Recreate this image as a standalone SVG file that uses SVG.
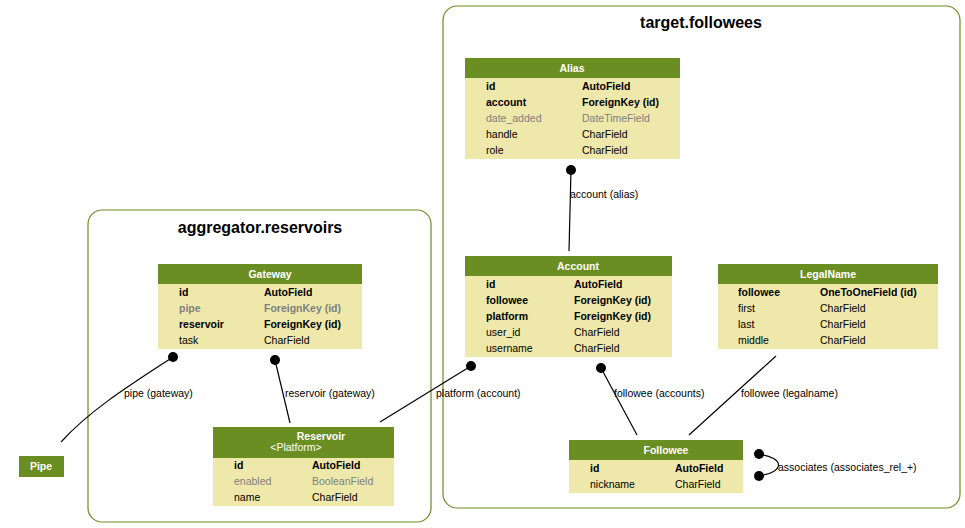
<svg xmlns="http://www.w3.org/2000/svg" width="965" height="528" viewBox="0 0 965 528">
<style>
text{font-family:"Liberation Sans",Arial,sans-serif;font-size:10.5px;fill:#000}
.cl{fill:none;stroke:#6b8e23;stroke-width:1.2}
.ct{font-size:16px;font-weight:bold;text-anchor:middle}
.hd{fill:#6b8e23}
.bd{fill:#eee8aa}
.ht{fill:#fff;font-weight:bold;text-anchor:middle}
.hs{fill:#fff;text-anchor:middle}
.b{font-weight:bold}
.g{fill:#7f7f7f}
.e{fill:none;stroke:#000;stroke-width:1.2}
.lb{font-size:10.5px}
</style>
<rect class="cl" x="443" y="6" width="517" height="502" rx="14"/>
<text class="ct" x="701" y="28">target.followees</text>
<rect class="cl" x="88" y="210" width="343" height="312" rx="14"/>
<text class="ct" x="260" y="233">aggregator.reservoirs</text>

<g id="edges">
<line class="e" x1="571" y1="170" x2="569" y2="251"/>
<circle cx="571" cy="170" r="5"/>
<text class="lb" x="570" y="198">account (alias)</text>
<path class="e" d="M173,357 C130,385 90,410 61,442"/>
<circle cx="173" cy="357" r="5"/>
<text class="lb" x="124" y="397">pipe (gateway)</text>
<line class="e" x1="275" y1="360" x2="290" y2="423"/>
<circle cx="275" cy="360" r="5"/>
<text class="lb" x="285" y="397">reservoir (gateway)</text>
<line class="e" x1="471" y1="366" x2="380" y2="422"/>
<circle cx="471" cy="366" r="5"/>
<text class="lb" x="436" y="397">platform (account)</text>
<line class="e" x1="601" y1="368" x2="637" y2="435"/>
<circle cx="601" cy="368" r="5"/>
<text class="lb" x="614" y="397">followee (accounts)</text>
<line class="e" x1="776" y1="356" x2="689" y2="435"/>
<text class="lb" x="741" y="397">followee (legalname)</text>
<path class="e" d="M759,454 C785,458 785,472 759,476"/>
<circle cx="759" cy="454" r="5"/>
<circle cx="759" cy="476" r="5"/>
<text class="lb" x="778" y="471">associates (associates_rel_+)</text>
</g>

<g id="alias">
<rect class="hd" x="465" y="58" width="215" height="20"/>
<rect class="bd" x="465" y="78" width="215" height="81"/>
<text class="ht" x="572" y="72">Alias</text>
<text class="b" x="486" y="90">id</text><text class="b" x="582" y="90">AutoField</text>
<text class="b" x="486" y="106">account</text><text class="b" x="582" y="106">ForeignKey (id)</text>
<text class="g" x="486" y="122">date_added</text><text class="g" x="582" y="122">DateTimeField</text>
<text x="486" y="138">handle</text><text x="582" y="138">CharField</text>
<text x="486" y="154">role</text><text x="582" y="154">CharField</text>
</g>

<g id="account">
<rect class="hd" x="465" y="256" width="207" height="20"/>
<rect class="bd" x="465" y="276" width="207" height="81"/>
<text class="ht" x="578" y="270">Account</text>
<text class="b" x="486" y="288">id</text><text class="b" x="574" y="288">AutoField</text>
<text class="b" x="486" y="304">followee</text><text class="b" x="574" y="304">ForeignKey (id)</text>
<text class="b" x="486" y="320">platform</text><text class="b" x="574" y="320">ForeignKey (id)</text>
<text x="486" y="336">user_id</text><text x="574" y="336">CharField</text>
<text x="486" y="352">username</text><text x="574" y="352">CharField</text>
</g>

<g id="legalname">
<rect class="hd" x="718" y="264" width="220" height="20"/>
<rect class="bd" x="718" y="284" width="220" height="65"/>
<text class="ht" x="828" y="278">LegalName</text>
<text class="b" x="738" y="296">followee</text><text class="b" x="820" y="296">OneToOneField (id)</text>
<text x="738" y="312">first</text><text x="820" y="312">CharField</text>
<text x="738" y="328">last</text><text x="820" y="328">CharField</text>
<text x="738" y="344">middle</text><text x="820" y="344">CharField</text>
</g>

<g id="gateway">
<rect class="hd" x="158" y="264" width="204" height="20"/>
<rect class="bd" x="158" y="284" width="204" height="65"/>
<text class="ht" x="270" y="278">Gateway</text>
<text class="b" x="179" y="296">id</text><text class="b" x="264" y="296">AutoField</text>
<text class="g b" x="179" y="312">pipe</text><text class="g b" x="264" y="312">ForeignKey (id)</text>
<text class="b" x="179" y="328">reservoir</text><text class="b" x="264" y="328">ForeignKey (id)</text>
<text x="179" y="344">task</text><text x="264" y="344">CharField</text>
</g>

<g id="reservoir">
<rect class="hd" x="213" y="427" width="181" height="31"/>
<rect class="bd" x="213" y="458" width="181" height="48"/>
<text class="ht" x="321" y="440">Reservoir</text>
<text class="hs" x="296" y="451">&lt;Platform&gt;</text>
<text class="b" x="234" y="469">id</text><text class="b" x="312" y="469">AutoField</text>
<text class="g" x="234" y="485">enabled</text><text class="g" x="312" y="485">BooleanField</text>
<text x="234" y="501">name</text><text x="312" y="501">CharField</text>
</g>

<g id="followee">
<rect class="hd" x="569" y="440" width="174" height="20"/>
<rect class="bd" x="569" y="460" width="174" height="33"/>
<text class="ht" x="666" y="454">Followee</text>
<text class="b" x="590" y="472">id</text><text class="b" x="675" y="472">AutoField</text>
<text x="590" y="488">nickname</text><text x="675" y="488">CharField</text>
</g>

<g id="pipe">
<rect class="hd" x="19" y="456" width="45" height="21"/>
<text class="ht" x="41" y="470">Pipe</text>
</g>
</svg>
